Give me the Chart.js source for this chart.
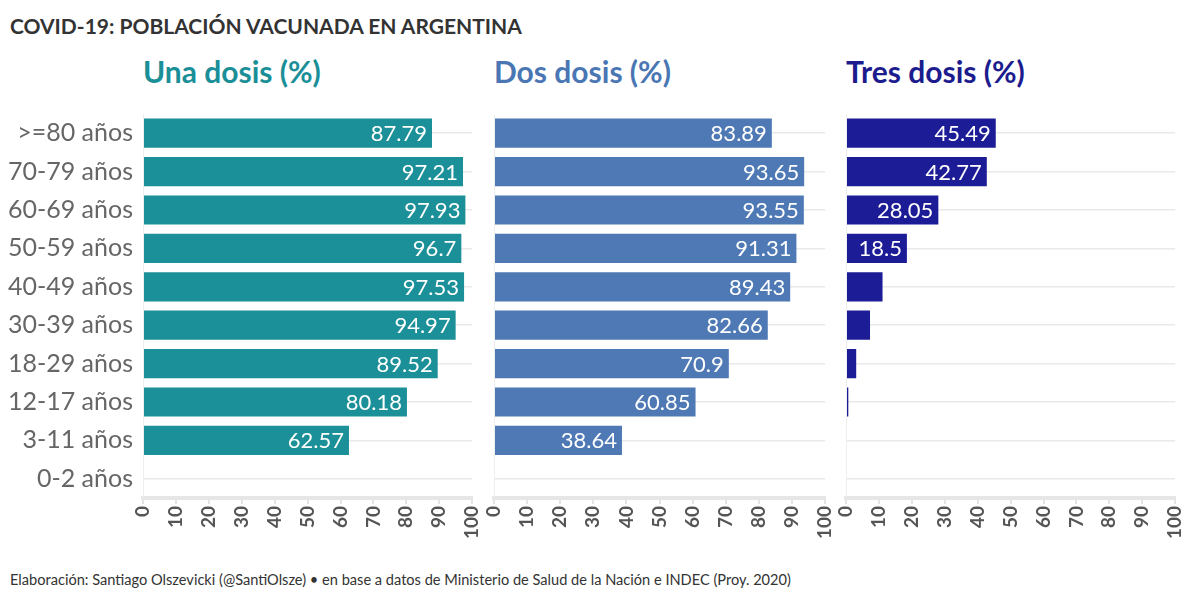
<!DOCTYPE html>
<html>
<head>
<meta charset="utf-8">
<script src="https://cdn.jsdelivr.net/npm/chart.js@4.4.0/dist/chart.umd.min.js"></script>
<style>
  body { margin: 0; background: #fff; font-family: Lato, sans-serif; }
  #wrap { position: relative; width: 1200px; height: 600px; overflow: hidden; }
  .t { position: absolute; white-space: nowrap; }
  .box { position: absolute; top: 89px; height: 471px; }
</style>
</head>
<body>
<div id="wrap">
  <div class="t" style="left:10px; top:13px; font-size:21px; font-weight:bold; color:#333;">COVID-19: POBLACIÓN VACUNADA EN ARGENTINA</div>
  <div class="t" style="left:143px; top:53px; font-size:30px; font-weight:bold; color:#1b8f98;">Una dosis (%)</div>
  <div class="t" style="left:494px; top:53px; font-size:30px; font-weight:bold; color:#4a77b4;">Dos dosis (%)</div>
  <div class="t" style="left:846px; top:53px; font-size:30px; font-weight:bold; color:#1c1c8e;">Tres dosis (%)</div>
  <div class="box" style="left:0; width:497px;"><canvas id="c1"></canvas></div>
  <div class="box" style="left:351px; width:499px;"><canvas id="c2"></canvas></div>
  <div class="box" style="left:703px; width:497px;"><canvas id="c3"></canvas></div>
  <div class="t" style="left:10px; top:571px; font-size:14.6px; color:#333;">Elaboración: Santiago Olszevicki (@SantiOlsze) • en base a datos de Ministerio de Salud de la Nación e INDEC (Proy. 2020)</div>
</div>
<script>
// grupos de edad
var edades = ['>=80 años', '70-79 años', '60-69 años', '50-59 años', '40-49 años',
              '30-39 años', '18-29 años', '12-17 años', '3-11 años', '0-2 años'];
var unaDosis  = [87.79, 97.21, 97.93, 96.7, 97.53, 94.97, 89.52, 80.18, 62.57, null];
var dosDosis  = [83.89, 93.65, 93.55, 91.31, 89.43, 82.66, 70.9, 60.85, 38.64, null];
var tresDosis = [45.49, 42.77, 28.05, 18.5, 11.1, 7.3, 3.1, 0.7, 0, null];
var ticksX = [0, 10, 20, 30, 40, 50, 60, 70, 80, 90, 100];

// etiquetas blancas dentro de las barras
var etiquetas = {
  id: 'etiquetas',
  afterDatasetsDraw: function(chart) {
    var ctx = chart.ctx;
    var meta = chart.getDatasetMeta(0);
    var vals = chart.data.datasets[0].data;
    ctx.save();
    ctx.font = '22px Lato';
    ctx.fillStyle = '#fff';
    ctx.textAlign = 'right';
    ctx.textBaseline = 'middle';
    meta.data.forEach(function(bar, i) {
      var v = vals[i];
      if (v == null) return;
      var txt = String(v);
      var w = ctx.measureText(txt).width;
      if (bar.x - bar.base < w + 12) return;
      ctx.fillText(txt, bar.x - 5, bar.y + 1);
    });
    ctx.restore();
  }
};

function hacerGrafico(id, datos, color, conEtiquetasY) {
  var ctx = document.getElementById(id).getContext('2d');
  return new Chart(ctx, {
    type: 'bar',
    data: {
      labels: edades,
      datasets: [{
        data: datos,
        backgroundColor: color,
        borderWidth: 0,
        categoryPercentage: 0.76,
        barPercentage: 1
      }]
    },
    options: {
      indexAxis: 'y',
      responsive: true,
      maintainAspectRatio: false,
      animation: false,
      layout: { padding: { top: 12, right: 17, left: 0, bottom: 0 } },
      plugins: { legend: { display: false }, tooltip: { enabled: false } },
      scales: {
        x: {
          min: 0, max: 100,
          afterBuildTicks: function(s) { s.ticks = ticksX.map(function(v) { return { value: v }; }); },
          afterFit: function(s) { s.height = 62; },
          grid: { display: true, drawOnChartArea: false, tickLength: 6, color: '#e3e3e3', lineWidth: 2 },
          border: { color: '#e6e6e6', width: 4 },
          ticks: { minRotation: 90, maxRotation: 90, padding: 2, color: '#555',
                   font: { family: 'Lato', size: 19, weight: 'bold' } }
        },
        y: {
          afterFit: function(s) { s.width = 143; },
          grid: { color: '#e9e9e9', lineWidth: 1.5, drawTicks: false, offset: false },
          border: { color: '#eeeeee', width: 1 },
          ticks: { padding: 10, color: conEtiquetasY ? '#666' : 'rgba(0,0,0,0)',
                   font: { family: 'Lato', size: 25 } }
        }
      }
    },
    plugins: [etiquetas]
  });
}

hacerGrafico('c1', unaDosis, '#1b9098', true);
hacerGrafico('c2', dosDosis, '#4e79b5', false);
hacerGrafico('c3', tresDosis, '#1c1c96', false);
</script>
</body>
</html>
